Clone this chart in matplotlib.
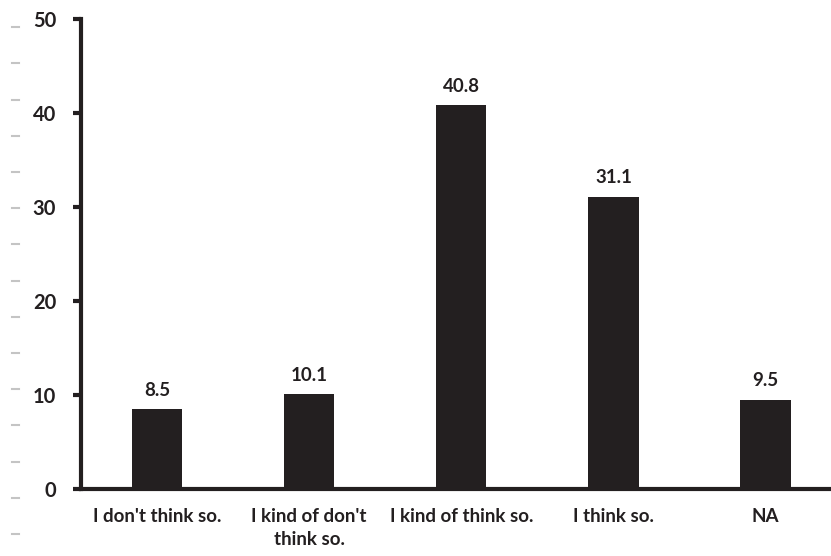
import matplotlib
matplotlib.use("Agg")
import matplotlib.pyplot as plt
from matplotlib.lines import Line2D
import numpy as np

categories = ["I don't think so.", "I kind of don't\nthink so.", "I kind of think so.",
              "I think so.", "NA"]
values = [8.5, 10.1, 40.8, 31.1, 9.5]
labels = ["8.5", "10.1", "40.8", "31.1", "9.5"]
yticks = [0, 10, 20, 30, 40, 50]

dark = "#231f20"
plt.rcParams["font.family"] = ["Lato", "DejaVu Sans"]

fig = plt.figure(figsize=(8.31, 5.56), dpi=100)
ax = fig.add_axes([0.0975, 0.1205, 0.9025, 0.8453])

x = np.arange(len(values))
ax.bar(x, values, width=0.33, color=dark, zorder=2)
for xi, v, lab in zip(x, values, labels):
    ax.text(xi, v + 1.1, lab, ha="center", va="bottom", fontsize=13.5,
            fontweight="bold", color=dark)

ax.set_xlim(-0.5, 4.43)
ax.set_ylim(0, 50)
ax.set_yticks(yticks)
ax.set_xticks(x)
ax.set_xticklabels(categories, fontsize=13.5, fontweight="bold", color=dark,
                   linespacing=1.4)
ax.tick_params(axis="y", direction="out", length=6, width=3, color=dark,
               labelsize=14.5, labelcolor=dark, pad=12)
ax.tick_params(axis="x", length=0, pad=14)
for lab in ax.get_yticklabels():
    lab.set_fontweight("bold")

for s in ["top", "right"]:
    ax.spines[s].set_visible(False)
ax.spines["left"].set_linewidth(3)
ax.spines["bottom"].set_linewidth(3)
ax.spines["left"].set_color(dark)
ax.spines["bottom"].set_color(dark)

# faint scan marks along the left edge
for yy in np.arange(534, 0, -36.2):
    fig.add_artist(Line2D([12 / 831, 19 / 831], [1 - yy / 556, 1 - yy / 556],
                          color="#c4c4c4", linewidth=1.5))

fig.savefig("out.png", dpi=100)
